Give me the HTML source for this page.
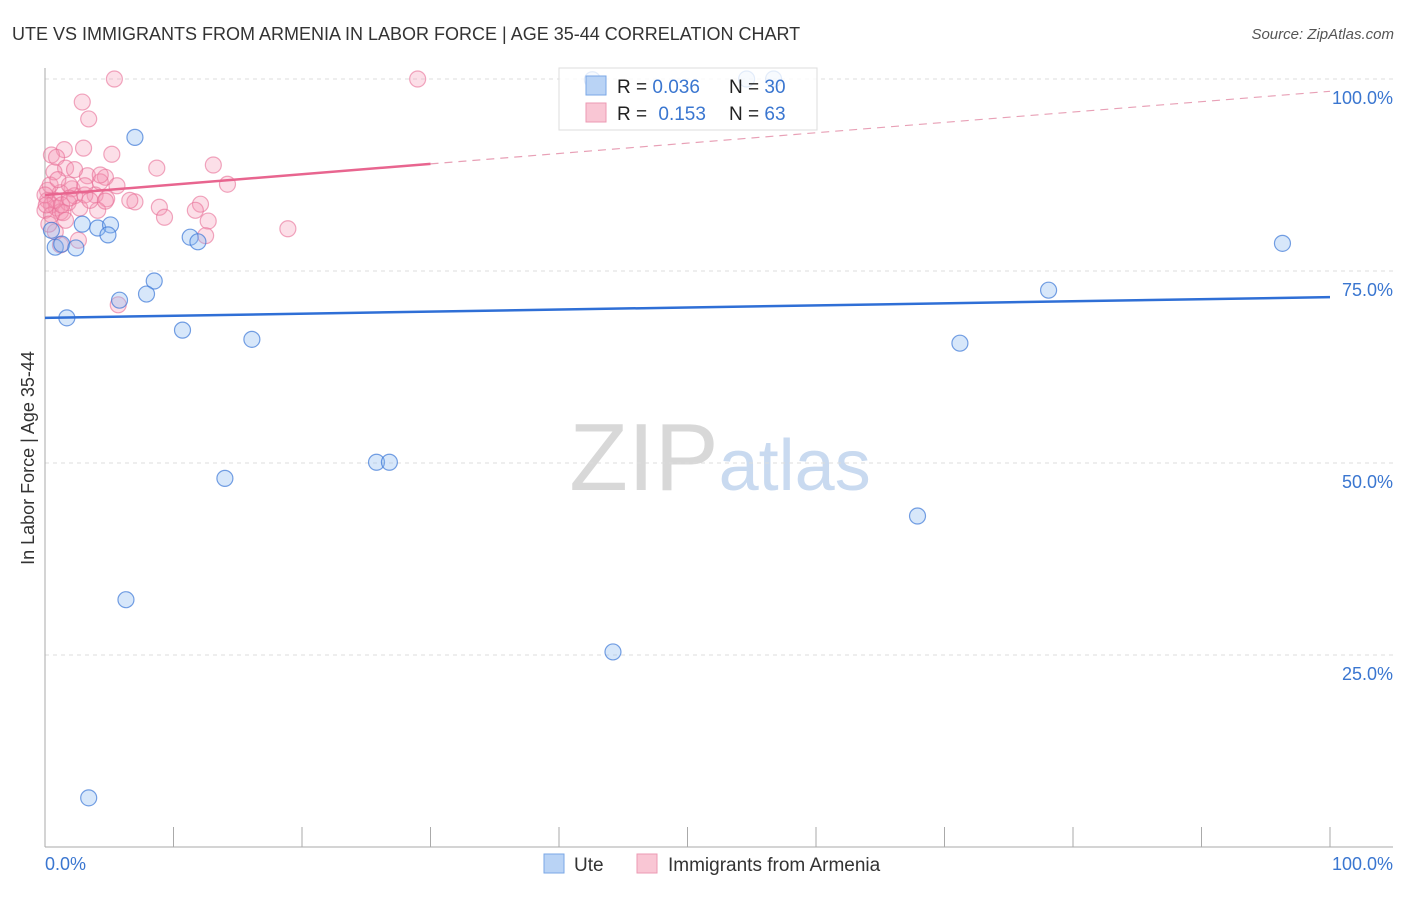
<!DOCTYPE html>
<html><head><meta charset="utf-8"><style>
body{margin:0;background:#fff;font-family:"Liberation Sans",sans-serif;}
svg text{font-family:"Liberation Sans",sans-serif;}
</style></head><body>
<svg id="c" width="1406" height="892">
<text x="12" y="40" font-size="18" fill="#333">UTE VS IMMIGRANTS FROM ARMENIA IN LABOR FORCE | AGE 35-44 CORRELATION CHART</text>
<text x="1394" y="39" font-size="15" fill="#555" text-anchor="end" font-style="italic">Source: ZipAtlas.com</text>
<text x="34" y="458" font-size="18" fill="#333" text-anchor="middle" transform="rotate(-90 34 458)">In Labor Force | Age 35-44</text>
<text x="720" y="490" font-size="96" fill="#ddd" text-anchor="middle" font-family="Liberation Serif"><tspan fill="#d8d8d8">ZIP</tspan><tspan fill="#c9daf0" font-family="Liberation Sans" font-size="72">atlas</tspan></text>
<g id="grid"></g><g id="pts"></g><g id="lines"></g>
<g>
<rect x="559" y="68" width="258" height="62" fill="rgba(255,255,255,0.8)" stroke="#ddd"/>
<rect x="586" y="76" width="20" height="19" fill="#b9d3f5" stroke="#7aa7e6"/>
<rect x="586" y="103" width="20" height="19" fill="#f9c6d4" stroke="#ec9ab3"/>
<text x="617" y="93" font-size="19" fill="#222">R = <tspan fill="#3a76d0">0.036</tspan></text>
<text x="729" y="93" font-size="19" fill="#222">N = <tspan fill="#3a76d0">30</tspan></text>
<text x="617" y="120" font-size="19" fill="#222">R = <tspan fill="#3a76d0" dx="6">0.153</tspan></text>
<text x="729" y="120" font-size="19" fill="#222">N = <tspan fill="#3a76d0">63</tspan></text>
</g>
<g>
<rect x="544" y="854" width="20" height="19" fill="#b9d3f5" stroke="#7aa7e6"/>
<text x="574" y="871" font-size="19" fill="#333">Ute</text>
<rect x="637" y="854" width="20" height="19" fill="#f9c6d4" stroke="#ec9ab3"/>
<text x="668" y="871" font-size="19" fill="#333">Immigrants from Armenia</text>
</g>
</svg>
<script>
const yTicks=[100,75,50,25];
const yTickLabels=["100.0%","75.0%","50.0%","25.0%"];
const uteX=[42.6,54.6,56.7,7.0,0.8,1.3,2.4,2.9,4.1,5.1,4.9,11.3,11.9,8.5,7.9,5.8,1.7,10.7,16.1,14.0,25.8,26.8,6.3,44.2,3.4,67.9,71.2,78.1,96.3,0.5];
const uteY=[99.9,100,100,92.4,78.1,78.5,78.0,81.1,80.6,81.0,79.7,79.4,78.8,73.7,72.0,71.2,68.9,67.3,66.1,48.0,50.1,50.1,32.2,25.4,6.4,43.1,65.6,72.5,78.6,80.3];
const armX=[5.4,29.0,2.9,3.4,1.5,0.5,0.9,3.0,5.2,13.1,8.7,14.2,1.6,0.7,3.3,4.7,4.3,5.6,2.1,0.2,1.2,2.3,3.9,4.8,7.0,8.9,12.1,11.7,9.3,12.7,0.2,0.5,0.9,0,1.2,1.8,2.7,4.1,0.5,1.4,18.9,0.8,2.6,12.5,5.7,0.4,1.9,3.1,3.5,0.8,0,1.6,0.3,1.2,4.7,6.6,2.3,1.0,4.3,0.1,1.3,1.9,3.1];
const armY=[100,100,97.0,94.8,90.8,90.1,89.8,91.0,90.2,88.8,88.4,86.3,88.4,87.9,87.4,87.2,86.6,86.1,85.7,85.5,85.2,84.8,84.9,84.4,84.0,83.3,83.7,82.9,82.0,81.5,84.2,83.6,83.2,82.9,82.7,83.9,83.2,82.9,82.3,82.6,80.5,80.1,79.0,79.6,70.6,86.2,86.2,84.9,84.2,84.2,84.9,81.6,81.1,78.4,84.1,84.2,88.2,86.9,87.5,83.6,83.6,84.5,86.1];
const uteTrend=[68.9,71.6];
const armTrend=[84.9,98.4];
const X=v=>45+v*12.85, Y=v=>847-v*7.68;
const NS="http://www.w3.org/2000/svg";
function mk(t,a,p){const e=document.createElementNS(NS,t);for(const k in a)e.setAttribute(k,a[k]);p.appendChild(e);return e;}
const g=document.getElementById('grid');
yTicks.forEach((t,i)=>{
 const l=mk('line',{x1:45,x2:1393,y1:Y(t),y2:Y(t),stroke:'#ddd','stroke-dasharray':'4,4'},g);
 
 
 const tx=mk('text',{x:1393,y:Y(t)+25,'font-size':18,fill:'#3a76d0','text-anchor':'end'},g);
 tx.textContent=yTickLabels[i];
 
 
});
mk('line',{x1:45,x2:45,y1:68,y2:847,stroke:'#aaa'},g);
mk('line',{x1:45,x2:1393,y1:847,y2:847,stroke:'#aaa'},g);
for(let i=1;i<=10;i++){mk('line',{x1:X(i*10),x2:X(i*10),y1:827,y2:847,stroke:'#aaa'},g);}
let t0=mk('text',{x:45,y:870,'font-size':18,fill:'#3a76d0'},g);t0.textContent="0.0%";


let t1=mk('text',{x:1393,y:870,'font-size':18,fill:'#3a76d0','text-anchor':'end'},g);t1.textContent="100.0%";


const p=document.getElementById('pts');
armX.forEach((x,i)=>{const c=mk('circle',{cx:X(x),cy:Y(armY[i]),r:8,fill:'rgba(244,150,180,0.3)',stroke:'rgba(232,110,150,0.6)','stroke-width':1.2},p);
 
 });
uteX.forEach((x,i)=>{const c=mk('circle',{cx:X(x),cy:Y(uteY[i]),r:8,fill:'rgba(140,185,240,0.35)',stroke:'rgba(60,120,215,0.7)','stroke-width':1.2},p);
 
 });
const L=document.getElementById('lines');
const ul=mk('line',{x1:X(0),y1:Y(uteTrend[0]),x2:X(100),y2:Y(uteTrend[1]),stroke:'#2f6fd6','stroke-width':2.5},L);


const am=v=>armTrend[0]+(armTrend[1]-armTrend[0])*v/100;
const al=mk('line',{x1:X(0),y1:Y(am(0)),x2:X(30),y2:Y(am(30)),stroke:'#e8658f','stroke-width':2.5},L);


const ad=mk('line',{x1:X(30),y1:Y(am(30)),x2:X(100),y2:Y(am(100)),stroke:'#e8a0b6','stroke-width':1.2,'stroke-dasharray':'8,6'},L);


</script>
</body></html>
